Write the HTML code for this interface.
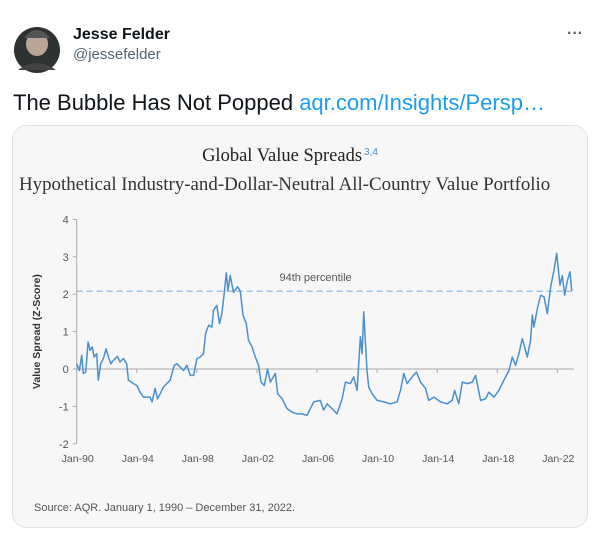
<!DOCTYPE html>
<html><head><meta charset="utf-8"><style>
body{margin:0;width:600px;height:540px;background:#fff;overflow:hidden;font-family:"Liberation Sans",sans-serif;}
</style></head><body>
<svg width="600" height="540" xmlns="http://www.w3.org/2000/svg">
<g>
<circle cx="37" cy="50" r="23" fill="#2e3230"/>
<ellipse cx="37" cy="44" rx="11" ry="12" fill="#b9a699"/>
<path d="M24 38 Q37 22 50 38 Z" fill="#555"/>
<path d="M18 70 Q37 56 56 70 Z" fill="#444"/>
</g>
<text x="73" y="39" font-size="16" font-weight="bold" fill="#0f1419">Jesse Felder</text>
<text x="73" y="59" font-size="15" fill="#536471">@jessefelder</text>
<text x="567" y="38" font-size="16" fill="#536471" font-weight="bold">···</text>
<text x="13" y="110" font-size="22" fill="#0f1419">The Bubble Has Not Popped <tspan fill="#1d9bf0">aqr.com/Insights/Persp…</tspan></text>
<rect x="12.5" y="125.5" width="575" height="402" rx="14" fill="#f7f7f7" stroke="#dfe3e6"/>
<text x="290" y="161" text-anchor="middle" font-family="Liberation Serif,serif" font-size="18.5" fill="#222">Global Value Spreads<tspan font-size="10" fill="#4a90c8" dx="2" dy="-6" font-family="Liberation Sans,sans-serif">3,4</tspan></text>
<text x="19" y="190" font-family="Liberation Serif,serif" font-size="18.9" fill="#333">Hypothetical Industry-and-Dollar-Neutral All-Country Value Portfolio</text>
<g id="chart"></g>
<text x="34" y="511" font-size="11" fill="#555">Source: AQR. January 1, 1990 – December 31, 2022.</text>
</svg>
<script>
const yTicks=[4,3,2,1,0,-1,-2];
const xTickYears=[1990,1994,1998,2002,2006,2010,2014,2018,2022];
const xTickLabels=["Jan-90","Jan-94","Jan-98","Jan-02","Jan-06","Jan-10","Jan-14","Jan-18","Jan-22"];
const percentileValue=2.08;
const years=[1990.00,1990.18,1990.33,1990.44,1990.60,1990.76,1990.89,1991.04,1991.16,1991.33,1991.44,1991.60,1991.78,1991.96,1992.11,1992.27,1992.44,1992.71,1992.89,1993.11,1993.33,1993.44,1993.78,1994.00,1994.22,1994.44,1994.67,1994.89,1995.02,1995.22,1995.38,1995.56,1995.78,1996.00,1996.22,1996.49,1996.67,1996.89,1997.11,1997.33,1997.56,1997.78,1998.00,1998.22,1998.44,1998.58,1998.78,1999.00,1999.11,1999.33,1999.51,1999.67,1999.82,1999.96,2000.07,2000.22,2000.44,2000.71,2000.89,2001.07,2001.29,2001.44,2001.67,2001.89,2002.11,2002.27,2002.49,2002.71,2002.89,2003.22,2003.38,2003.67,2004.00,2004.33,2004.67,
2005.00,2005.33,2005.78,2006.22,2006.44,2006.67,2007.00,2007.33,2007.67,2007.89,2008.22,2008.44,2008.67,2008.89,2009.00,2009.11,2009.33,2009.44,2009.67,2010.00,2010.44,2010.89,2011.33,2011.56,2011.78,2012.00,2012.33,2012.62,2012.89,2013.22,2013.44,2013.78,2014.22,2014.67,2015.00,2015.16,2015.44,2015.67,2016.00,2016.33,2016.56,2016.89,2017.22,2017.44,2017.78,2018.11,2018.44,2018.78,2019.00,2019.22,2019.44,2019.67,2020.00,2020.22,2020.33,2020.44,2020.67,2020.89,2021.11,2021.33,2021.56,2021.78,2021.96,2022.18,2022.33,2022.49,2022.67,2022.84,2022.95,2023.0];
const values=[0.14,-0.04,0.37,-0.12,-0.08,0.72,0.50,0.59,0.32,0.41,-0.30,0.14,0.28,0.54,0.32,0.14,0.23,0.34,0.19,0.28,0.14,-0.30,-0.39,-0.44,-0.62,-0.75,-0.75,-0.75,-0.88,-0.52,-0.80,-0.66,-0.48,-0.39,-0.30,0.10,0.14,0.05,-0.04,0.10,-0.17,-0.17,0.28,0.32,0.41,0.95,1.17,1.12,1.57,1.70,1.21,1.48,2.02,2.57,2.10,2.50,2.05,2.20,2.08,1.44,1.21,0.77,0.59,0.32,0.10,-0.35,-0.44,0.00,-0.35,-0.12,-0.66,-0.79,-1.06,-1.15,-1.20,
-1.20,-1.24,-0.88,-0.84,-1.10,-0.93,-1.06,-1.20,-0.80,-0.35,-0.39,-0.21,-0.57,0.86,0.41,1.53,-0.04,-0.48,-0.66,-0.84,-0.88,-0.93,-0.88,-0.57,-0.12,-0.39,-0.21,-0.08,-0.35,-0.52,-0.84,-0.75,-0.88,-0.93,-0.84,-0.57,-0.93,-0.35,-0.39,-0.35,-0.17,-0.84,-0.80,-0.62,-0.75,-0.57,-0.30,-0.04,0.32,0.10,0.41,0.81,0.32,0.77,1.44,1.12,1.62,1.97,1.93,1.48,2.20,2.64,3.09,2.24,2.50,1.97,2.37,2.60,2.12,2.10];
const NS="http://www.w3.org/2000/svg";
const g=document.getElementById('chart');
const X0=76.7,XS=15.02,Y0=369,YS=37.4;
const xs=yr=>X0+(yr-1990)*XS, ys=v=>Y0-v*YS;
function mk(t,a,p){const e=document.createElementNS(NS,t);for(const k in a)e.setAttribute(k,a[k]);(p||g).appendChild(e);return e;}
let e=mk('line',{x1:X0,x2:X0,y1:ys(4),y2:ys(-2),stroke:'#aaa'});


yTicks.forEach(v=>{
 let t=mk('line',{x1:X0-4,x2:X0,y1:ys(v),y2:ys(v),stroke:'#aaa'});
 
 
 let l=mk('text',{x:X0-8,y:ys(v)+4,'text-anchor':'end','font-size':11,fill:'#555'});l.textContent=v;
 
 
});
e=mk('line',{x1:X0,x2:xs(2023.1),y1:ys(0),y2:ys(0),stroke:'#aaa'});


xTickYears.forEach((yr,i)=>{
 let t=mk('line',{x1:xs(yr),x2:xs(yr),y1:ys(0),y2:ys(0)+4,stroke:'#aaa'});
 
 
 let l=mk('text',{x:xs(yr)+1,y:462,'text-anchor':'middle','font-size':10.5,fill:'#555'});l.textContent=xTickLabels[i];
 
 
});
e=mk('text',{x:0,y:0,transform:`translate(40,${ys(1)}) rotate(-90)`,'text-anchor':'middle','font-size':10.5,'font-weight':'bold',fill:'#333'});
e.textContent='Value Spread (Z-Score)';


e=mk('line',{x1:X0,x2:xs(2023),y1:ys(percentileValue),y2:ys(percentileValue),stroke:'#7fb2dd','stroke-width':1.2,'stroke-dasharray':'6,4'});


e=mk('text',{x:xs(2003.5),y:ys(percentileValue)-10,'font-size':11,fill:'#555'});
e.textContent='94th percentile';


e=mk('polyline',{points:years.map((y,i)=>xs(y).toFixed(1)+','+ys(values[i]).toFixed(1)).join(' '),fill:'none',stroke:'#4a90d0','stroke-width':1.5,'stroke-linejoin':'round'});


</script>
</body></html>
